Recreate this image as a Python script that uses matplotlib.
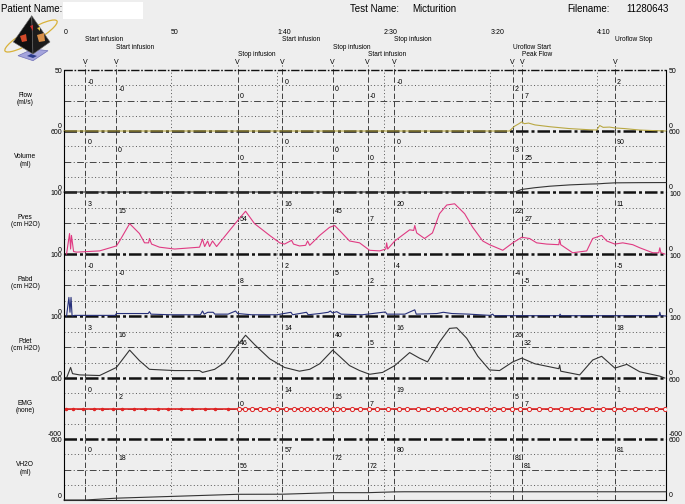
import numpy as np
import matplotlib
matplotlib.use("Agg")
import matplotlib.pyplot as plt
from matplotlib import transforms
from matplotlib.patches import Polygon, Ellipse, Rectangle

plt.rcParams['font.family'] = ['Liberation Sans', 'DejaVu Sans']

W, H = 685, 504
PAPER = '#eeeeee'

# time axis
time_ticks = [0, 50, 100, 150, 200, 250]
time_labels = ['0', '50', '1:40', '2:30', '3:20', '4:10']

# events
event_t = [10, 24.5, 81.5, 102.5, 126, 142.5, 155, 210.5, 215, 258.5]
event_names = ['Start infusion', 'Start infusion', 'Stop infusion', 'Start infusion',
               'Stop infusion', 'Start infusion', 'Stop infusion', 'Uroflow Start',
               'Peak Flow', 'Uroflow Stop']

# channels
chan_names = ['Flow', 'Volume', 'Pves', 'Pabd', 'Pdet', 'EMG', 'VH2O']
chan_units = ['(ml/s)', '(ml)', '(cm H2O)', '(cm H2O)', '(cm H2O)', '(none)', '(ml)']
chan_lo = [0, 0, 0, 0, 0, -600, 0]
chan_hi = [50, 600, 100, 100, 100, 600, 600]

# values shown at each event
flow_vals = ['-0', '-0', '0', '0', '0', '-0', '-0', '2', '7', '2']
volume_vals = ['0', '0', '0', '0', '0', '0', '0', '3', '25', '90']
pves_vals = ['3', '15', '54', '16', '45', '7', '20', '22', '27', '11']
pabd_vals = ['-0', '-0', '8', '2', '5', '2', '4', '-4', '-5', '-5']
pdet_vals = ['3', '16', '46', '14', '40', '5', '16', '26', '32', '18']
emg_vals = ['0', '2', '0', '14', '15', '7', '19', '5', '7', '1']
vh2o_vals = ['0', '18', '56', '57', '72', '72', '80', '81', '81', '81']

# traces
flow_t = [0, 209, 211.5, 213.5, 214.8, 216, 218, 221, 228, 237, 246.7, 250, 251.4, 253,
          256, 258.5, 263, 270, 277, 282.5]
flow_v = [0, 0, 4, 6, 7.5, 6, 6.5, 5, 3.5, 2, 1, 0.8, 4.5, 3, 3.2, 2.5, 2, 0.8, 0.3, 0]

volume_t = [0, 210.6, 212, 214.8, 220.9, 228, 237.4, 246.7, 250.5, 253.8, 258.5, 270, 282.5]
volume_v = [0, 0, 3, 25, 42, 57, 70, 78, 80, 85, 90, 92, 93]

pves_t = [1.2, 2.6, 3.1, 3.5, 4.5, 5.9, 16.7, 24.6, 26.1, 30.8, 35.4, 37.8, 39.7, 40.1,
          41.1, 44.8, 51.9, 63.6, 65.0, 66.0, 67.4, 68.3, 69.7, 71.6, 73.0, 77.7, 81.5,
          85.2, 89.4, 96.5, 101.2, 103.5, 106.8, 107.7, 110.5, 113.4, 114.3, 115.3, 120,
          124.6, 127, 129.3, 134, 138.7, 143.4, 148.1, 151, 151.4, 151.9, 155.2, 162.2,
          164.1, 164.6, 165.5, 169.2, 172.9, 176.2, 179.6, 183.3, 188, 191.8, 196.5,
          199.7, 205.9, 210.6, 214.8, 218.5, 221.8, 226.5, 232.2, 232.6, 233.1, 238.7,
          245.3, 248.1, 252.3, 254.7, 258.5, 262.2, 266.9, 270.2, 276.3, 279.1, 279.6,
          280.1, 281.9]
pves_v = [0, 33, 8, 30, 4, 3, 5, 13, 21, 49, 33, 18, 18, 25, 16, 11, 8, 11, 24, 12, 21,
          12, 21, 12, 18, 38, 54, 69, 49, 30, 18, 16, 22, 16, 13, 14, 21, 14, 30, 43, 46,
          38, 21, 18, 6, 5, 8, 18, 8, 21, 39, 38, 46, 34, 25, 34, 65, 79, 81, 65, 43, 21,
          15, 6, 18, 27, 25, 18, 16, 15, 24, 15, 2, 5, 25, 30, 21, 16, 18, 15, 10, 2, 2,
          10, 2, 0]

pabd_t = [1.2, 2.3, 2.8, 3.3, 3.8, 5, 24, 24.6, 30, 39.5, 40.1, 40.8, 50, 64, 65, 65.8,
          67.5, 70, 70.8, 77, 80.5, 81.5, 88, 100, 106.5, 107.3, 113.8, 114.6, 120, 124,
          125, 126, 128, 130, 140, 150.8, 151.6, 160, 164.6, 165.3, 175, 178, 182, 190,
          200, 201.2, 201.8, 232.4, 232.8, 233.2, 279.3, 279.6, 280, 282.5]
pabd_v = [0, 30, 6, 30, 0, 1, 1, 4, 4, 4, 7, 3, 2, 2, 8, 3, 6, 6, 3, 3, 8, 4, 2, 2, 6, 2,
          6, 2, 4, 6, 8, 5, 7, 3, 2, 6.5, 3, 3, 10, 3, 4, 6, 4, 3, 1, 3, 0.5, 0.5, 3, 0.5,
          0.5, 6, 0.5, 0]

pdet_t = [1.2, 3.1, 4, 7.3, 16.7, 24.6, 30.8, 35.4, 40.1, 51.9, 63.6, 65, 70.7, 75.4,
          81.5, 85.2, 89.4, 96.5, 103.5, 110.5, 115.3, 120, 126.1, 129.3, 134, 138.7,
          143.4, 149.5, 155.2, 162.2, 166.8, 170.6, 176.2, 180.9, 184.3, 189, 194.2,
          199.7, 204.4, 210.6, 214.8, 220.9, 232.2, 232.6, 233.1, 242, 248.1, 252.3,
          258.5, 264.1, 270.2, 279.6, 281.9]
pdet_v = [0, 17, 7, 5, 4, 17, 45, 28, 14, 12, 12, 9, 14, 25, 53, 69, 54, 31, 17, 11, 14,
          23, 45, 35, 20, 12, 6, 9, 20, 41, 32, 26, 58, 80, 81, 64, 35, 13, 12, 26, 32,
          23, 15, 21, 11, 5, 29, 35, 16, 22, 10, 3, 0]

emg_t = [1, 4, 9, 14, 18, 23, 27, 33, 38, 44, 49, 55, 60, 66, 71, 77, 82, 85, 88, 92,
         96, 100, 104, 108, 111, 114, 117, 120, 123, 126, 128, 131, 135, 139, 143, 147,
         152, 157, 161, 166, 171, 175, 179, 183, 186, 190, 194, 198, 202, 206, 210, 214,
         218, 223, 228, 233, 238, 243, 248, 253, 258, 263, 268, 273, 278, 282]
emg_v = [0] * len(emg_t)

vh2o_t = [0, 10, 24.6, 81.5, 102.6, 126, 142.5, 155.2, 160, 282.5]
vh2o_v = [0, 0, 18, 56, 57, 72, 72, 80, 81, 81]

chan_vals = [flow_vals, volume_vals, pves_vals, pabd_vals, pdet_vals, emg_vals, vh2o_vals]
chan_traces = [(flow_t, flow_v, '#b9a843'), (volume_t, volume_v, '#333333'),
               (pves_t, pves_v, '#e03a82'), (pabd_t, pabd_v, '#27307a'),
               (pdet_t, pdet_v, '#333333'), (emg_t, emg_v, '#e02424'),
               (vh2o_t, vh2o_v, '#333333')]

tops = [70, 131, 192, 254, 316, 378, 439, 500]
X0, X1 = 64, 666
TMAX = 282.5

fig = plt.figure(figsize=(W / 100, H / 100), dpi=100, facecolor=PAPER)


def ftext(x, y, s, **kw):
    fig.text(x / W, 1 - y / H, s, **kw)


# header
ftext(1, 9, 'Patient Name:', fontsize=7, va='center')
fig.patches.append(Rectangle((63 / W, 1 - 19 / H), 80 / W, 17 / H, facecolor='white',
                             edgecolor='none', transform=fig.transFigure))
ftext(350, 9, 'Test Name:', fontsize=7, va='center')
ftext(412, 9, 'Micturition', fontsize=7, va='center')
ftext(567, 9, 'Filename:', fontsize=7, va='center')
ftext(626, 9, '11280643', fontsize=7, va='center')

# logo
lg = fig.add_axes([0, 1 - 72 / H, 62 / W, 58 / H])
lg.set_xlim(0, 62)
lg.set_ylim(72, 14)
lg.axis('off')
lg.add_patch(Ellipse((31, 36), 60, 13, angle=-30, fill=False, edgecolor='#d9b23a',
                     lw=0.9, zorder=1))
lg.add_patch(Polygon([(18, 55.7), (33, 49), (48, 50.7), (33, 60.7)], closed=True,
                     facecolor='#a4a4dc', edgecolor='#7070b8', lw=0.5, zorder=2))
lg.add_patch(Polygon([(27, 56), (31, 54), (37, 56), (33, 58)], closed=True,
                     facecolor='#2a3a8a', zorder=2))
lg.add_patch(Polygon([(31.7, 15.7), (13.3, 42), (33, 54)], closed=True,
                     facecolor='#111111', edgecolor='#666666', lw=0.4, zorder=3))
lg.add_patch(Polygon([(31.7, 15.7), (33, 54), (50, 42)], closed=True,
                     facecolor='#1c1c1c', edgecolor='#666666', lw=0.4, zorder=3))
lg.add_patch(Polygon([(20, 36), (26, 34), (27, 41), (22, 42)], closed=True,
                     facecolor='#d44a2a', zorder=4))
lg.add_patch(Polygon([(37, 35), (44, 33), (45, 41), (39, 42)], closed=True,
                     facecolor='#d8904a', zorder=4))
lg.add_patch(Polygon([(30, 26), (33, 25), (33, 31)], closed=True, facecolor='#c83030',
                     zorder=4))
lg.add_patch(Polygon([(37, 28), (40, 27), (40, 31)], closed=True, facecolor='#e8c84a',
                     zorder=4))

# channels
fracs = [1 - 12 / 61, 1 - 19.5 / 61, 1 - 27 / 61]
axes = []
for i in range(7):
    top, bot = tops[i], tops[i + 1]
    lo, hi = chan_lo[i], chan_hi[i]
    ax = fig.add_axes([X0 / W, 1 - bot / H, (X1 - X0) / W, (bot - top) / H])
    ax.set_xlim(0, TMAX)
    ax.set_ylim(lo, hi)
    ax.patch.set_alpha(0)
    ax.set_xticks([])
    ax.set_yticks([])
    ax.spines['top'].set_visible(False)
    ax.spines['bottom'].set_visible(False)
    ax.spines['left'].set_linewidth(0.8)
    ax.spines['right'].set_linewidth(0.8)
    span = hi - lo
    for f in [0.25, 0.75]:
        ax.axhline(lo + f * span, color='#555555', lw=0.7, ls=(0, (1, 2.5)))
    ax.axhline(lo + 0.5 * span, color='#444444', lw=0.7, ls=(0, (7, 2.5, 1, 2.5)))
    for t in time_ticks[1:]:
        ax.axvline(t, color='#555555', lw=0.7, ls=(0, (1, 2.5)))
    for t in event_t:
        ax.axvline(t, ymax=1.08 if i == 0 else 1, color='#333333', lw=0.65,
                   ls=(0, (6, 3)), clip_on=False)
    if i == 0:
        ax.axhline(hi, color='#111111', lw=1.0, ls=(0, (6, 1.2, 1.2, 1.2)), clip_on=False)
    if i < 6:
        ax.axhline(lo, color='#111111', lw=1.8, ls=(0, (5, 1.2, 1.2, 1.2)), clip_on=False)
    else:
        ax.axhline(lo, color='#222222', lw=0.8, clip_on=False)

    t_arr, v_arr, col = chan_traces[i]
    if chan_names[i] == 'EMG':
        ta = np.array(t_arr)
        va = np.array(v_arr)
        ax.plot(ta, va, color=col, lw=1.2, zorder=4)
        ax.plot(ta[ta < 82], va[ta < 82], ls='none', marker='o', ms=1.5, color=col, zorder=5)
        ax.plot(ta[ta >= 82], va[ta >= 82], ls='none', marker='o', ms=3.0,
                markerfacecolor='#f4f4f4', markeredgecolor=col, mew=0.7, zorder=5)
    else:
        ax.plot(t_arr, v_arr, color=col, lw=0.8, zorder=4, clip_on=False)

    trans = transforms.offset_copy(
        transforms.blended_transform_factory(ax.transData, ax.transAxes),
        fig=fig, x=2, y=0, units='dots')
    for k, (t, s) in enumerate(zip(event_t, chan_vals[i])):
        ax.text(t, fracs[k % 3], s, transform=trans, fontsize=5, va='center', ha='left')

    # channel label
    ftext(25, top + 25.5, chan_names[i], fontsize=4.8, ha='center', va='center')
    ftext(25, top + 33, chan_units[i], fontsize=4.8, ha='center', va='center')

    # scale labels
    top_lab = str(hi)
    bot_lab = str(lo)
    ftext(62, top + 1.5, top_lab, fontsize=5, ha='right', va='center')
    ftext(62, bot - 4, bot_lab, fontsize=5, ha='right', va='center')
    ftext(669, top + 2, top_lab, fontsize=5, ha='left', va='center')
    ftext(669, bot - 4.5, bot_lab, fontsize=5, ha='left', va='center')
    axes.append(ax)

# time labels and event annotations on top
top_ax = axes[0]
btr = transforms.blended_transform_factory(top_ax.transData, fig.transFigure)
for t, s in zip(time_ticks, time_labels):
    top_ax.text(t, 1 - 32.5 / H, s, transform=btr, fontsize=5, ha='left', va='center')
ev_y = [39.5, 47.5, 55]
for k, (t, s) in enumerate(zip(event_t, event_names)):
    top_ax.text(t, 1 - ev_y[k % 3] / H, s, transform=btr, fontsize=4.7, ha='left',
                va='center')
    top_ax.text(t, 1 - 62.5 / H, 'V', transform=btr, fontsize=5, ha='center', va='center')

fig.savefig('out.png', dpi=100, facecolor=PAPER)
